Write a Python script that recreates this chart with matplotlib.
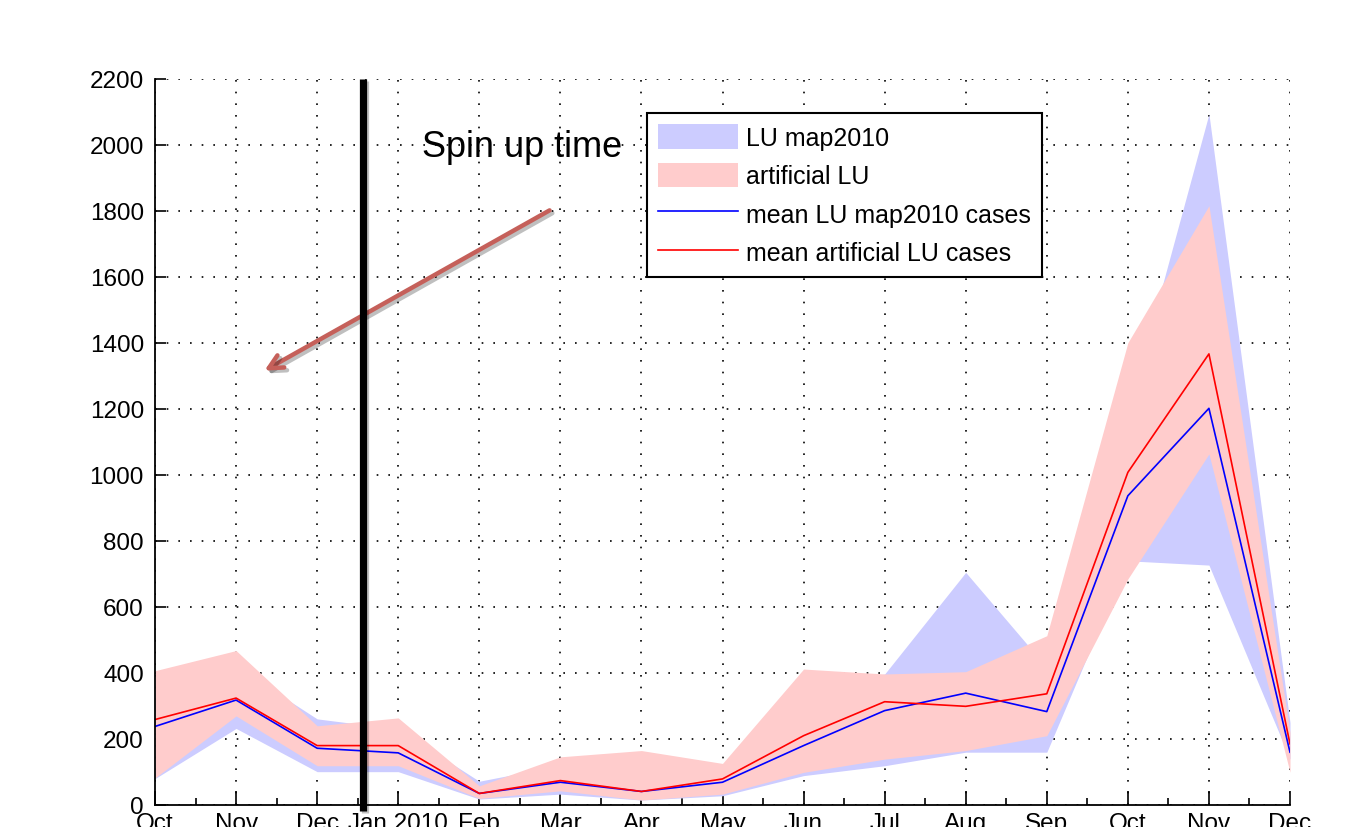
import matplotlib
matplotlib.use("Agg")
import matplotlib.pyplot as plt
import matplotlib.patheffects as pe
from matplotlib.lines import Line2D
import numpy as np

# ---------------- data ----------------
months = ['Oct', 'Nov', 'Dec', 'Jan 2010', 'Feb', 'Mar', 'Apr', 'May',
          'Jun', 'Jul', 'Aug', 'Sep', 'Oct', 'Nov', 'Dec']
blue_mean = [238, 318, 172, 158, 35, 69, 41, 69, 180, 286, 339, 283, 937, 1202, 160]
red_mean = [259, 324, 180, 180, 35, 74, 41, 79, 210, 313, 299, 337, 1008, 1367, 185]
blue_low = [80, 232, 101, 101, 18, 33, 15, 28, 89, 119, 160, 160, 740, 727, 139]
blue_high = [380, 420, 261, 230, 72, 120, 120, 110, 350, 397, 705, 417, 1190, 2094, 250]
red_low = [82, 270, 119, 119, 20, 43, 15, 33, 99, 139, 165, 210, 685, 1064, 99]
red_high = [407, 468, 240, 264, 58, 146, 165, 126, 412, 397, 404, 513, 1401, 1816, 220]
y_ticks = list(range(0, 2201, 200))
legend_labels = ['LU map2010', 'artificial LU', 'mean LU map2010 cases', 'mean artificial LU cases']
annotation_text = 'Spin up time'

# ---------------- figure ----------------
W, H = 1347, 828
fig = plt.figure(figsize=(W / 100, H / 100), dpi=100)
plt.rcParams['font.family'] = ['Liberation Sans', 'DejaVu Sans']

L, R, T, B = 155, 1290, 80, 806
ax = fig.add_axes([L / W, (H - B) / H, (R - L) / W, (B - T) / H])

x = np.arange(len(months))
ax.fill_between(x, blue_low, blue_high, color='#CCCCFF', linewidth=0, label=legend_labels[0], zorder=2)
ax.fill_between(x, red_low, red_high, color='#FFCCCC', linewidth=0, label=legend_labels[1], zorder=3)
ax.plot(x, blue_mean, color='#0000FF', lw=1.2, label=legend_labels[2], zorder=4)
ax.plot(x, red_mean, color='#FF0000', lw=1.2, label=legend_labels[3], zorder=5)

ax.set_xlim(0, len(months) - 1)
ax.set_ylim(0, 2200)
ax.set_xticks(x)
ax.set_xticklabels(months)
ax.set_xticks(x[:-1] + 0.5, minor=True)
ax.set_yticks(y_ticks)

ax.grid(True, which='major', color='black', linestyle=(0, (1, 6)), linewidth=1.2, zorder=1)
ax.set_axisbelow(True)
for s in ['top', 'right']:
    ax.spines[s].set_visible(False)
for s in ['left', 'bottom']:
    ax.spines[s].set_linewidth(1.3)
    ax.spines[s].set_zorder(6)

ax.tick_params(axis='x', which='major', direction='in', length=10, width=1.2, labelsize=17.5, pad=5)
ax.tick_params(axis='x', which='minor', direction='in', length=5, width=1.2)
ax.tick_params(axis='y', which='major', direction='in', length=8, width=1.2, labelsize=17.5, pad=8)

leg = ax.legend(loc='upper left', bbox_to_anchor=(647 / W, (H - 114) / H),
                bbox_transform=fig.transFigure, fontsize=18, frameon=True,
                fancybox=False, framealpha=1, edgecolor='black', borderpad=0.45,
                handlelength=3.2, handleheight=1.15, handletextpad=0.3,
                labelspacing=0.5, borderaxespad=0)
leg.get_frame().set_linewidth(1.5)
leg.set_zorder(10)

# ---------------- overlay annotations ----------------
vline = Line2D([363 / W, 363 / W], [(H - 80) / H, (H - 812) / H], transform=fig.transFigure,
               color='black', lw=5.2, solid_capstyle='butt', zorder=20,
               path_effects=[pe.SimpleLineShadow(offset=(1.5, -1.5), alpha=0.25), pe.Normal()])
fig.add_artist(vline)

fig.text(422 / W, (H - 157) / H, annotation_text, fontsize=26, color='black',
         ha='left', va='baseline', zorder=20)

ax.annotate('', xy=(262, H - 373), xycoords='figure pixels',
            xytext=(552, H - 210), textcoords='figure pixels',
            arrowprops=dict(arrowstyle='->,head_length=1.0,head_width=0.5',
                            color='#C5605A', lw=3.2,
                            path_effects=[pe.SimpleLineShadow(offset=(2, -2), alpha=0.25), pe.Normal()]),
            annotation_clip=False, zorder=20)

fig.savefig('out.png', dpi=100)
